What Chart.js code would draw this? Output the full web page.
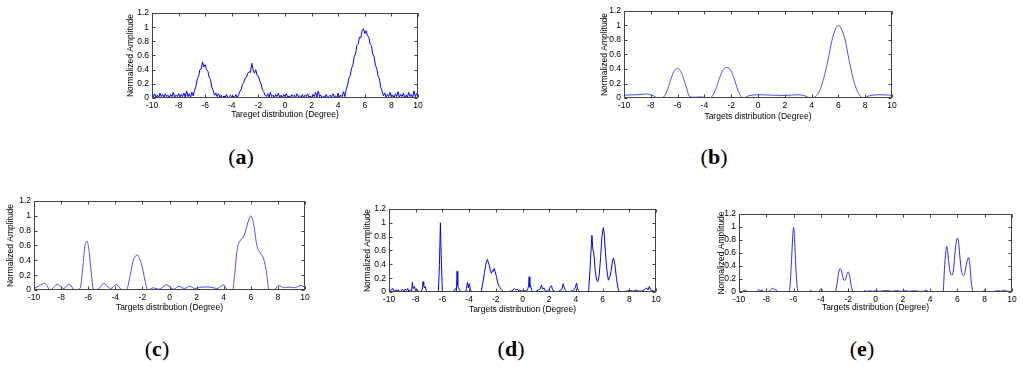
<!DOCTYPE html>
<html>
<head>
<meta charset="utf-8">
<script src="https://cdn.jsdelivr.net/npm/chart.js@4.4.1/dist/chart.umd.min.js"></script>
<style>
  body { margin: 0; background: #fff; }
  #page { position: relative; width: 1024px; height: 368px; overflow: hidden; }
  #page canvas { position: absolute; }
  .cap {
    position: absolute;
    font-family: "Liberation Serif", "Times New Roman", serif;
    font-size: 22px;
    transform: translate(-50%, -50%);
    white-space: nowrap;
  }
</style>
</head>
<body>
<div id="page"></div>
<script>
// axis ticks shared by all five panels
const xTicks = [-10, -8, -6, -4, -2, 0, 2, 4, 6, 8, 10];
const yTickLabels = ['0', '0.2', '0.4', '0.6', '0.8', '1', '1.2'];

// (a) sampled every 0.1 degree from -10 to 10
const aStart = -10;
const aStep = 0.1;
const aY = [
  0.09, 0.02, 0.06, 0.01, 0.04, 0.0, 0.07, 0.02, 0.05, 0.01,
  0.06, 0.02, 0.04, 0.0, 0.05, 0.02, 0.08, 0.01, 0.04, 0.02,
  0.06, 0.01, 0.05, 0.02, 0.07, 0.01, 0.1, 0.02, 0.06, 0.01, 0.08,
  0.03, 0.11, 0.16, 0.27, 0.3, 0.4, 0.41, 0.51, 0.44, 0.47,
  0.4, 0.38, 0.29, 0.26, 0.15, 0.11, 0.04, 0.07, 0.02, 0.06,
  0.01, 0.04, 0.0, 0.03, 0.01, 0.05, 0.0, 0.02, 0.04, 0.01, 0.03, 0.0, 0.05, 0.01,
  0.04, 0.09, 0.12, 0.19, 0.22, 0.28, 0.29, 0.35, 0.37, 0.36, 0.49,
  0.4, 0.35, 0.4, 0.32, 0.31, 0.24, 0.2, 0.12, 0.09, 0.04, 0.02,
  0.06, 0.01, 0.08, 0.02, 0.04, 0.0, 0.05, 0.02, 0.07, 0.01,
  0.04, 0.0, 0.05, 0.02, 0.06, 0.01, 0.03, 0.0, 0.05, 0.02,
  0.04, 0.01, 0.06, 0.02, 0.03, 0.0, 0.05, 0.01, 0.04, 0.02,
  0.06, 0.01, 0.03, 0.0, 0.05, 0.02, 0.08, 0.01, 0.1, 0.02,
  0.04, 0.0, 0.03, 0.01, 0.05, 0.0, 0.02, 0.04, 0.01, 0.06,
  0.02, 0.03, 0.0, 0.07, 0.01, 0.04, 0.02, 0.09,
  0.02, 0.12, 0.18, 0.28, 0.31, 0.42, 0.46, 0.58, 0.62, 0.74,
  0.76, 0.86, 0.85, 0.95, 0.98, 0.91, 0.95, 0.88, 0.86, 0.76,
  0.74, 0.62, 0.58, 0.46, 0.42, 0.31, 0.27, 0.15, 0.1, 0.03,
  0.07, 0.01, 0.05, 0.02, 0.08, 0.01, 0.04, 0.0, 0.06, 0.02,
  0.09, 0.01, 0.05, 0.02, 0.07, 0.0, 0.04, 0.01, 0.08, 0.02,
  0.05, 0.01, 0.1, 0.02, 0.06, 0.09,
];
const aX = aY.map((_, i) => +(aStart + i * aStep).toFixed(2));

// (b)
const bX = [-10, -9, -8.3, -7.8, -7.45, -7.2, -6.9, -6.6, -6.3, -6.0, -5.7, -5.4, -5.1,
  -4.8, -4.2, -3.6, -3.4, -3.1, -2.8, -2.5, -2.3, -2.1, -1.8, -1.5, -1.1, -0.7,
  0, 1, 2, 3, 3.5, 3.9, 4.3, 4.6, 4.9, 5.2, 5.5, 5.8, 6.0, 6.2, 6.5, 6.8, 7.1, 7.4,
  7.85, 8.3, 9, 10];
const bY = [0.04, 0.045, 0.055, 0.03, 0.0, 0.0, 0.05, 0.2, 0.36, 0.41, 0.34, 0.18, 0.02,
  0.01, 0.015, 0.0, 0.03, 0.15, 0.31, 0.41, 0.42, 0.4, 0.28, 0.11, 0.0, 0.03,
  0.045, 0.04, 0.035, 0.045, 0.03, 0.0, 0.02, 0.1, 0.27, 0.5, 0.78, 0.96, 1.0, 0.96,
  0.8, 0.52, 0.27, 0.1, 0.0, 0.03, 0.045, 0.04];

// (c)
const cX = [-10, -9.6, -9.2, -8.8, -8.3, -7.8, -7.4, -7.0, -6.6, -6.4, -6.25, -6.1,
  -5.95, -5.8, -5.6, -5.2, -4.85, -4.35, -3.9, -3.5, -3.2, -3.1, -2.9, -2.7, -2.5,
  -2.35, -2.2, -2.0, -1.8, -1.6, -1.2, -0.8, -0.2, 0.3, 0.7, 1.1, 1.5, 1.9, 2.4,
  3.0, 3.5, 4.0, 4.3, 4.65, 4.8, 5.0, 5.2, 5.5, 5.8, 6.0, 6.2, 6.45, 6.7, 6.95,
  7.15, 7.35, 7.7, 8.05, 8.5, 8.8, 9.2, 9.7, 10];
const cY = [0.02, 0.06, 0.09, 0.0, 0.075, 0.02, 0.08, 0.0, 0.02, 0.3, 0.58, 0.66,
  0.55, 0.28, 0.0, 0.02, 0.09, 0.02, 0.075, 0.0, 0.0, 0.03, 0.2, 0.38, 0.46,
  0.47, 0.42, 0.3, 0.12, 0.0, 0.03, 0.01, 0.07, 0.01, 0.05, 0.02, 0.05, 0.02, 0.04,
  0.04, 0.02, 0.07, 0.0, 0.0, 0.2, 0.55, 0.66, 0.73, 0.92, 1.0, 0.9, 0.6, 0.5, 0.42,
  0.25, 0.0, 0.0, 0.06, 0.03, 0.04, 0.03, 0.06, 0.04];

// (d)
const dX = [-10, -9.9, -9.8, -9.7, -9.6, -9.5, -9.4, -9.3, -9.2, -9.1, -9.0, -8.9,
  -8.8, -8.7, -8.6, -8.5, -8.4, -8.3, -8.25, -8.2, -8.1, -8.0, -7.9, -7.8, -7.7,
  -7.6, -7.5, -7.45, -7.4, -7.35, -7.3, -7.2, -7.1, -6.3, -6.22, -6.15, -6.08, -6.0,
  -5.2, -5.1, -5.0, -4.95, -4.9, -4.85, -4.8, -4.7, -4.65, -4.25, -4.2, -4.12, -4.05,
  -3.98, -3.9, -3.8, -3.1, -2.95, -2.85, -2.75, -2.68, -2.62, -2.55, -2.48, -2.4,
  -2.33, -2.25, -2.18, -2.12, -2.05, -1.95, -1.85, -1.75, -1.6, -1.5, -1.4, -0.95,
  -0.9, -0.8, -0.7, -0.6, -0.5, -0.4, -0.3, -0.2, -0.1, 0, 0.1, 0.2, 0.3, 0.4, 0.45,
  0.5, 0.55, 0.6, 0.7, 0.8, 1.0, 1.2, 1.35, 1.42, 1.5, 1.6, 1.7, 1.85, 2.0, 2.1,
  2.18, 2.25, 2.4, 2.6, 2.8, 2.95, 3.05, 3.12, 3.2, 3.35, 3.6, 3.8, 3.95, 4.05, 4.12,
  4.2, 4.3, 4.95, 5.05, 5.12, 5.2, 5.27, 5.35, 5.45, 5.55, 5.65, 5.75, 5.85, 5.95,
  6.05, 6.12, 6.2, 6.3, 6.43, 6.55, 6.65, 6.75, 6.82, 6.92, 7.05, 7.15, 7.25, 7.7,
  7.8, 7.9, 8.0, 8.1, 8.3, 8.5, 8.6, 8.8, 9.0, 9.2, 9.3, 9.4, 9.5, 9.6, 9.7, 9.85, 10];
const dY = [0.03, 0.01, 0.04, 0.05, 0.01, 0.03, 0.02, 0.03, 0.0, 0.02, 0.04, 0.01,
  0.04, 0.02, 0.05, 0.01, 0.03, 0.02, 0.14, 0.05, 0.08, 0.02, 0.04, 0.01, 0.0,
  0.01, 0.04, 0.15, 0.1, 0.06, 0.08, 0.02, 0.0, 0.0, 0.4, 1.0, 0.45, 0.0,
  0.0, 0.03, 0.05, 0.02, 0.3, 0.1, 0.06, 0.03, 0.0, 0.0, 0.05, 0.14, 0.06,
  0.12, 0.04, 0.0, 0.0, 0.15, 0.28, 0.4, 0.45, 0.47, 0.42, 0.38, 0.3,
  0.27, 0.31, 0.3, 0.34, 0.3, 0.22, 0.13, 0.08, 0.04, 0.02, 0.0, 0.0,
  0.02, 0.01, 0.03, 0.05, 0.03, 0.04, 0.02, 0.03, 0.01, 0.02, 0.01, 0.02, 0.01, 0.05, 0.08,
  0.22, 0.07, 0.09, 0.02, 0.0, 0.01, 0.03, 0.05, 0.1, 0.04, 0.06, 0.02, 0.01, 0.04, 0.08,
  0.09, 0.03, 0.01, 0.0, 0.02, 0.04, 0.12, 0.07, 0.03, 0.0, 0.01, 0.02, 0.06, 0.13, 0.05,
  0.02, 0.0, 0.0, 0.3, 0.55, 0.82, 0.62, 0.55, 0.3, 0.17, 0.15, 0.25, 0.5, 0.8,
  0.93, 0.85, 0.6, 0.35, 0.17, 0.22, 0.32, 0.46, 0.49, 0.4, 0.18, 0.06, 0.0, 0.0,
  0.02, 0.01, 0.03, 0.02, 0.01, 0.03, 0.02, 0.01, 0.02, 0.04, 0.06, 0.03, 0.08, 0.03, 0.02, 0.01, 0.02];

// (e)
const eX = [-10, -9.8, -9.6, -9.5, -9.4, -9.0, -8.7, -8.55, -8.45, -8.3, -8.2, -7.8,
  -7.5, -7.4, -7.3, -7.2, -7.0, -6.35, -6.25, -6.15, -6.05, -6.0, -5.95, -5.85, -5.75,
  -5.65, -4.85, -4.75, -4.65, -4.3, -4.1, -4.0, -3.9, -3.8, -2.95, -2.8, -2.7, -2.6,
  -2.5, -2.4, -2.3, -2.2, -2.1, -2.0, -1.9, -1.8, -1.7, -1.6, -0.9, -0.8, -0.6, -0.4,
  -0.2, 0, 0.3, 0.6, 0.9, 1.2, 1.5, 1.9, 2.2, 2.5, 2.8, 3.2, 3.5, 3.7, 3.85, 4.0,
  4.95, 5.05, 5.15, 5.22, 5.3, 5.4, 5.5, 5.6, 5.7, 5.8, 5.92, 6.02, 6.1, 6.2, 6.3,
  6.45, 6.55, 6.65, 6.75, 6.83, 6.92, 7.02, 7.15, 7.9, 8.0, 8.1, 8.4, 8.7, 9.0, 9.2,
  9.4, 9.5, 9.7, 10];
const eY = [0.01, 0.0, 0.03, 0.02, 0.01, 0.0, 0.01, 0.04, 0.02, 0.03, 0.0, 0.01,
  0.06, 0.03, 0.04, 0.01, 0.0, 0.0, 0.12, 0.5, 0.9, 0.99, 0.9, 0.45, 0.1,
  0.0, 0.0, 0.03, 0.01, 0.0, 0.02, 0.05, 0.03, 0.0, 0.0, 0.15, 0.3, 0.36,
  0.33, 0.24, 0.18, 0.19, 0.27, 0.31, 0.25, 0.12, 0.03, 0.0, 0.0, 0.02, 0.01, 0.02,
  0.01, 0.02, 0.01, 0.02, 0.02, 0.01, 0.02, 0.01, 0.02, 0.01, 0.02, 0.01, 0.01, 0.03, 0.01, 0.0,
  0.0, 0.35, 0.62, 0.7, 0.6, 0.4, 0.28, 0.26, 0.32, 0.55, 0.78, 0.83, 0.74, 0.5, 0.32,
  0.25, 0.3, 0.42, 0.5, 0.53, 0.4, 0.15, 0.0, 0.0, 0.04, 0.01, 0.0, 0.01, 0.02, 0.01,
  0.03, 0.02, 0.01, 0.01];

const fontSize = 8.5;
const lineH = fontSize * 1.2;
const titleFont = { family: 'Liberation Sans, Arial, sans-serif', size: fontSize, lineHeight: 1.2 };
const tickFont = { family: 'Liberation Sans, Arial, sans-serif', size: fontSize, lineHeight: 1 };

// box around the plot area with inward ticks, MATLAB style
const framePlugin = {
  id: 'frame',
  afterDatasetsDraw(chart) {
    const { ctx, chartArea: a, scales } = chart;
    const l = Math.round(a.left) + 0.5, r = Math.round(a.right) - 0.5;
    const t = Math.round(a.top) + 0.5, b = Math.round(a.bottom) - 0.5;
    ctx.save();
    ctx.strokeStyle = '#444';
    ctx.lineWidth = 1;
    ctx.strokeRect(l, t, r - l, b - t);
    ctx.beginPath();
    xTicks.forEach(v => {
      const px = Math.round(scales.x.getPixelForValue(v)) + 0.5;
      ctx.moveTo(px, b); ctx.lineTo(px, b - 3);
      ctx.moveTo(px, t); ctx.lineTo(px, t + 3);
    });
    yTickLabels.forEach((_, i) => {
      const py = Math.round(scales.y.getPixelForValue(i * 0.2)) + 0.5;
      ctx.moveTo(l, py); ctx.lineTo(l + 3, py);
      ctx.moveTo(r, py); ctx.lineTo(r - 3, py);
    });
    ctx.stroke();
    ctx.restore();
  },
};

const page = document.getElementById('page');

function panel(f, xs, ys, xTitle, color, smooth) {
  const left = Math.round(f.yt - lineH / 2);
  const top = f.T - 8;
  const w = f.R + 8 - left;
  const h = Math.round(f.xt + lineH / 2) - top;
  const canvas = document.createElement('canvas');
  canvas.width = w;
  canvas.height = h;
  canvas.style.left = left + 'px';
  canvas.style.top = top + 'px';
  page.appendChild(canvas);

  new Chart(canvas, {
    type: 'line',
    data: {
      datasets: [{
        data: xs.map((x, i) => ({ x, y: ys[i] })),
        borderColor: color,
        borderWidth: 1,
        pointRadius: 0,
        cubicInterpolationMode: smooth ? 'monotone' : 'default',
        tension: 0,
      }],
    },
    options: {
      responsive: false,
      animation: false,
      layout: { padding: { top: 8, right: 8, left: 0, bottom: 0 } },
      plugins: { legend: { display: false }, tooltip: { enabled: false } },
      scales: {
        x: {
          type: 'linear',
          min: -10,
          max: 10,
          afterFit: s => { s.height = h - 8 - (f.B - f.T); },
          ticks: {
            font: tickFont, color: '#000', padding: 3, maxRotation: 0,
            autoSkip: false, autoSkipPadding: 0, stepSize: 2, callback: v => String(v),
          },
          grid: { display: false, drawTicks: false },
          border: { display: false },
          title: { display: true, text: xTitle, font: titleFont, color: '#000', padding: 0 },
        },
        y: {
          min: 0,
          max: 1.2,
          afterFit: s => { s.width = f.L - left; },
          ticks: {
            font: tickFont, color: '#000', padding: 3, autoSkip: false, autoSkipPadding: 0,
            stepSize: 0.2,
            callback: v => yTickLabels[Math.round(v / 0.2)],
          },
          grid: { display: false, drawTicks: false },
          border: { display: false },
          title: { display: true, text: 'Normalized Amplitude', font: titleFont, color: '#000', padding: 0 },
        },
      },
    },
    plugins: [framePlugin],
  });
}

panel({ L: 152, T: 13, R: 418, B: 98, yt: 131, xt: 115 }, aX, aY,
  'Tareget distribution (Degree)', '#0000ff', false);
panel({ L: 624, T: 11, R: 892, B: 98, yt: 605, xt: 117 }, bX, bY,
  'Targets distribution (Degree)', '#4d4dff', true);
panel({ L: 34, T: 201, R: 305, B: 290, yt: 11, xt: 308 }, cX, cY,
  'Targets distribution (Degree)', '#4d4dff', true);
panel({ L: 389, T: 209, R: 656, B: 292, yt: 368, xt: 310 }, dX, dY,
  'Targets distribution (Degree)', '#0000ff', false);
panel({ L: 739, T: 214, R: 1012, B: 292, yt: 722, xt: 308 }, eX, eY,
  'Targets distribution (Degree)', '#2a2aff', true);

const captions = [
  { t: 'a', x: 241, y: 157 },
  { t: 'b', x: 714, y: 157 },
  { t: 'c', x: 157, y: 349 },
  { t: 'd', x: 511, y: 349 },
  { t: 'e', x: 862, y: 349 },
];
captions.forEach(c => {
  const el = document.createElement('div');
  el.className = 'cap';
  el.style.left = c.x + 'px';
  el.style.top = c.y + 'px';
  el.innerHTML = '(<b>' + c.t + '</b>)';
  page.appendChild(el);
});
</script>
</body>
</html>
